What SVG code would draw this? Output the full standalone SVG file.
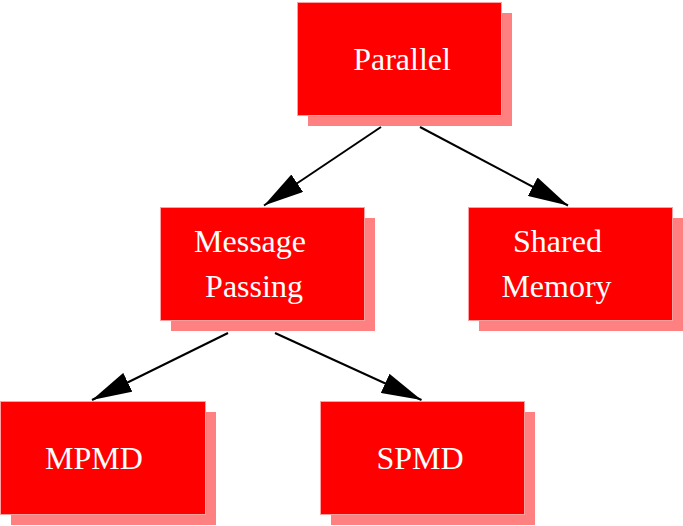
<svg xmlns="http://www.w3.org/2000/svg" width="683" height="526" viewBox="0 0 683 526">
  <style>
    .shadow { fill: #ff8080; }
    .box { fill: #ff0000; stroke: #ffa0a0; stroke-width: 1; }
    .label { font-family: "Liberation Serif", "Times New Roman", serif; font-size: 32px; fill: #ffffff; text-anchor: middle; }
    .edge { stroke: #000000; stroke-width: 2; fill: none; marker-end: url(#arrow); }
  </style>
  <defs>
    <marker id="arrow" viewBox="0 0 40 21" refX="40" refY="10.5" markerWidth="40" markerHeight="21" markerUnits="userSpaceOnUse" orient="auto">
      <path d="M0,0 L40,10.5 L0,21 z" fill="#000000"/>
    </marker>
  </defs>
  <rect width="683" height="526" fill="#ffffff"/>

  <!-- connectors -->
  <g id="edges">
    <line class="edge" x1="381" y1="127" x2="264" y2="205.5"/>
    <line class="edge" x1="420" y1="127" x2="568" y2="205.5"/>
    <line class="edge" x1="228" y1="333" x2="92" y2="400"/>
    <line class="edge" x1="275" y1="333" x2="421.5" y2="400"/>
  </g>

  <g id="parallel">
    <rect class="shadow" x="308" y="13" width="204" height="113"/>
    <rect class="box" x="297.5" y="2.5" width="204" height="113"/>
    <text class="label" x="402" y="70">Parallel</text>
  </g>

  <g id="message-passing">
    <rect class="shadow" x="171" y="218" width="204" height="113"/>
    <rect class="box" x="160.5" y="207.5" width="204" height="113"/>
    <text class="label" x="250" y="251.5">Message</text>
    <text class="label" x="254" y="296.5">Passing</text>
  </g>

  <g id="shared-memory">
    <rect class="shadow" x="479" y="218" width="204" height="113"/>
    <rect class="box" x="468.5" y="207.5" width="204" height="113"/>
    <text class="label" x="557.5" y="251.5">Shared</text>
    <text class="label" x="556.5" y="297">Memory</text>
  </g>

  <g id="mpmd">
    <rect class="shadow" x="11" y="412" width="205" height="113"/>
    <rect class="box" x="0.5" y="401.5" width="205" height="113"/>
    <text class="label" x="94" y="469">MPMD</text>
  </g>

  <g id="spmd">
    <rect class="shadow" x="331" y="412" width="204" height="113"/>
    <rect class="box" x="320.5" y="401.5" width="204" height="113"/>
    <text class="label" x="420" y="469">SPMD</text>
  </g>
</svg>
